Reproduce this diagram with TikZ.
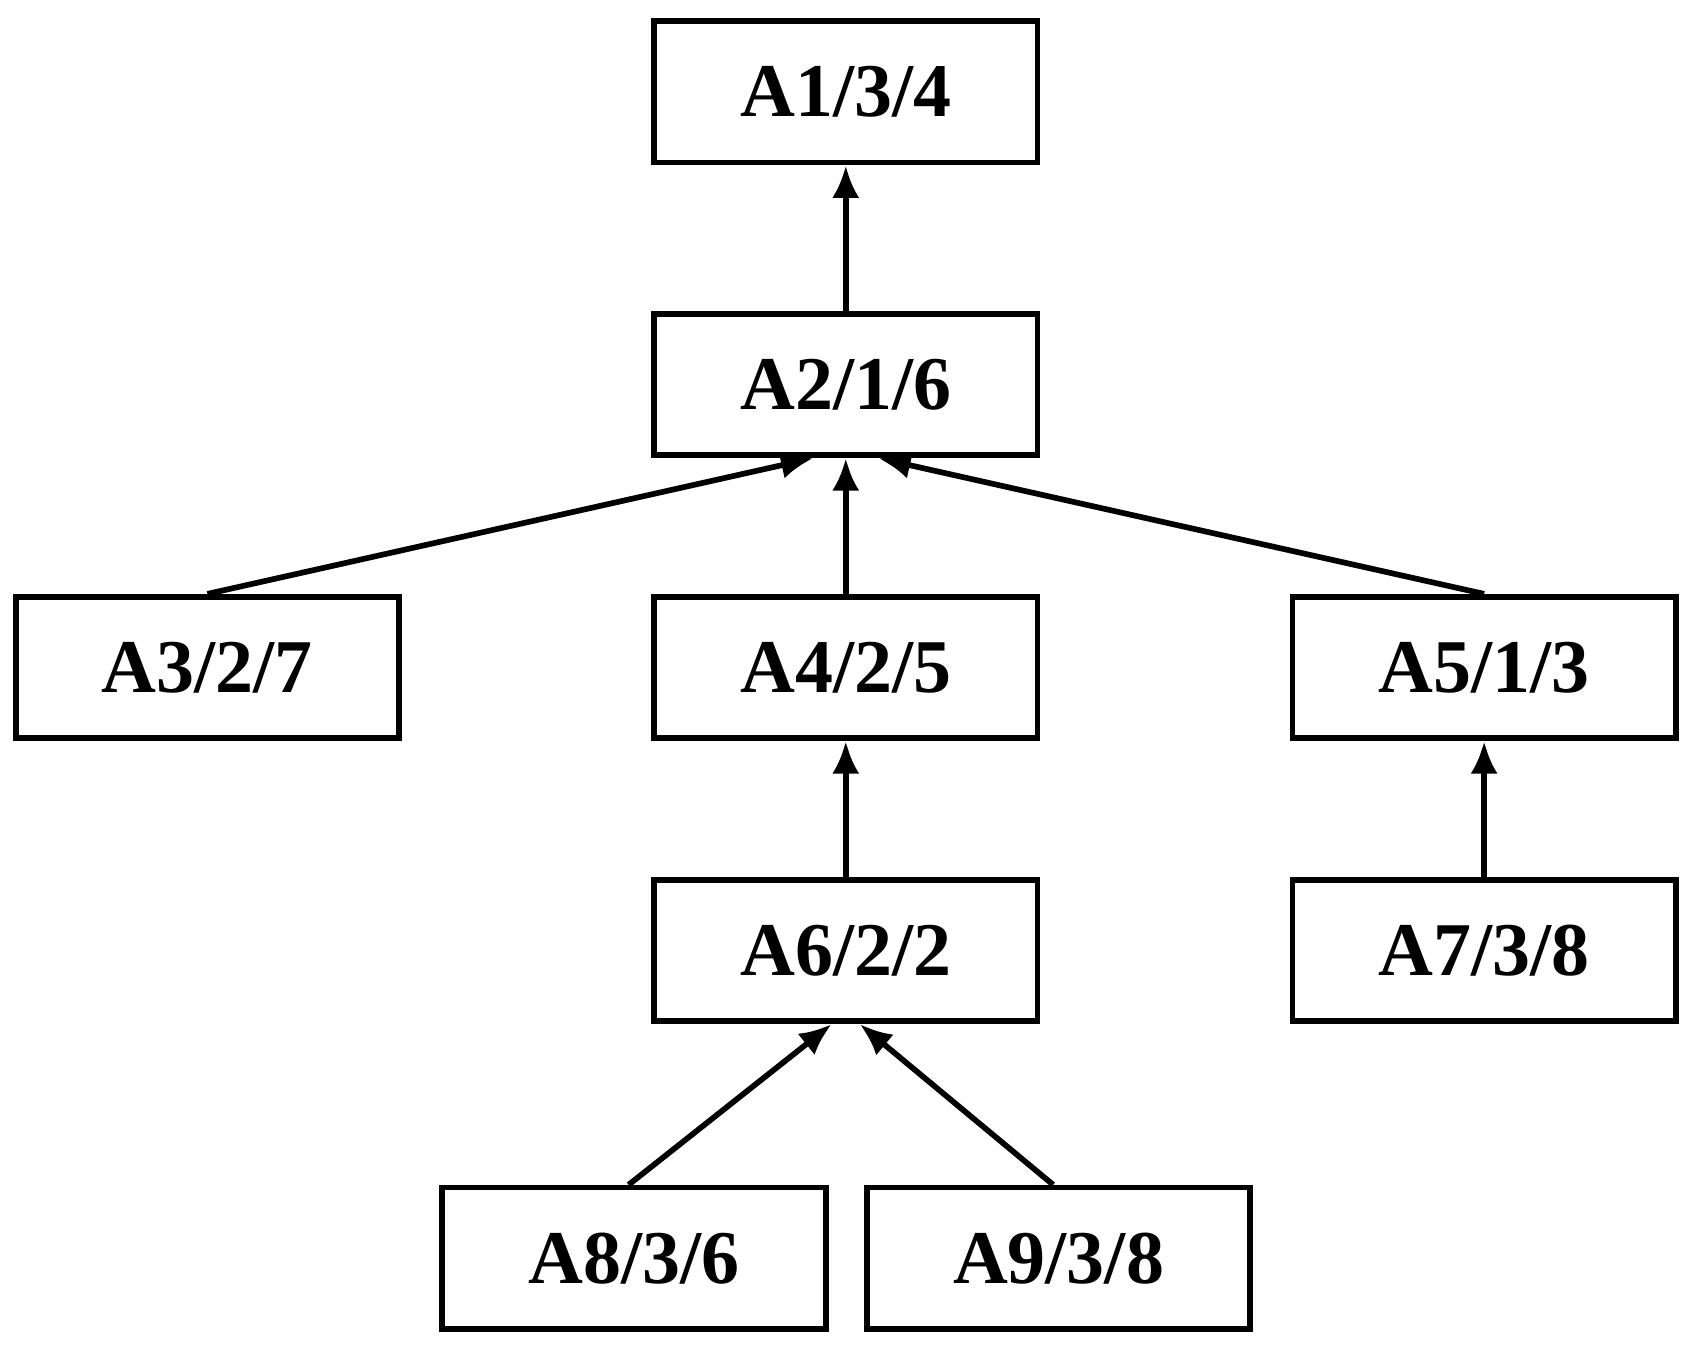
\documentclass[tikz,border=0pt]{standalone}
\usepackage{fontspec}
\setmainfont{Liberation Serif}
\usetikzlibrary{arrows.meta}

\begin{document}
\begin{tikzpicture}[
    block/.style={rectangle, draw, line width=1.5pt, minimum width=3.55cm, minimum height=1.31cm, font=\fontsize{20}{24}\selectfont\bfseries},
    arrow/.style={-{Latex[length=0.3cm,width=0.25cm]}, line width=1.5pt}
]
\useasboundingbox (0,0) rectangle (15.6,-12.48);

% Nodes
\node[block] (a1) at (7.83,-0.85) {A1/3/4};
\node[block] (a2) at (7.83,-3.56) {A2/1/6};
\node[block] (a3) at (1.92,-6.18) {A3/2/7};
\node[block] (a4) at (7.83,-6.18) {A4/2/5};
\node[block] (a5) at (13.74,-6.18) {A5/1/3};
\node[block] (a6) at (7.83,-8.80) {A6/2/2};
\node[block] (a7) at (13.74,-8.80) {A7/3/8};
\node[block] (a8) at (5.87,-11.65) {A8/3/6};
\node[block] (a9) at (9.80,-11.65) {A9/3/8};

% Arrows
\draw[arrow] (a2) -- (a1);
\draw[arrow] (a3.north) -- ([xshift=-0.3cm]a2.south);
\draw[arrow] (a4) -- (a2);
\draw[arrow] (a5.north) -- ([xshift=0.3cm]a2.south);
\draw[arrow] (a6) -- (a4);
\draw[arrow] (a7) -- (a5);
\draw[arrow] ([xshift=-0.05cm]a8.north) -- ([xshift=-0.13cm]a6.south);
\draw[arrow] ([xshift=-0.05cm]a9.north) -- ([xshift=0.13cm]a6.south);

\end{tikzpicture}
\end{document}
